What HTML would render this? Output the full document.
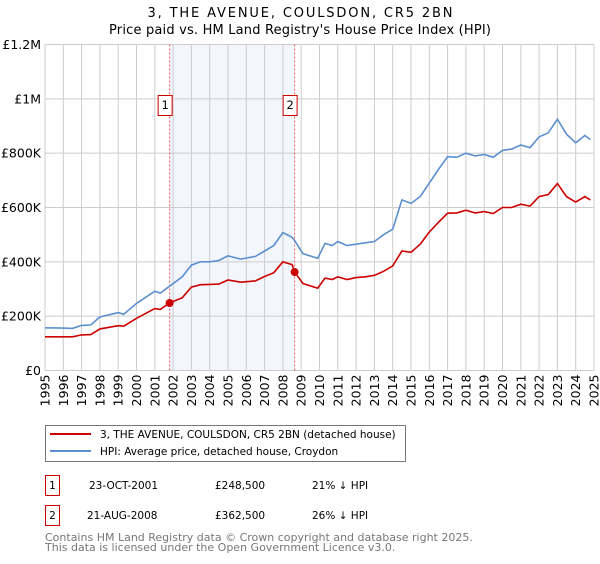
<!DOCTYPE html>
<html><head><meta charset="utf-8"><style>
body{margin:0;background:#fff;font-family:"DejaVu Sans","Liberation Sans",sans-serif;}
svg text{font-family:"DejaVu Sans","Liberation Sans",sans-serif;}
</style></head><body>
<svg id="c" width="600" height="560" xmlns="http://www.w3.org/2000/svg">
<text x="300" y="17" text-anchor="middle" font-size="13" textLength="305" lengthAdjust="spacing">3, THE AVENUE, COULSDON, CR5 2BN</text>
<text x="300" y="34" text-anchor="middle" font-size="13" textLength="382" lengthAdjust="spacing">Price paid vs. HM Land Registry's House Price Index (HPI)</text>
<g id="plot"></g>
<g>
<rect x="45.5" y="425.5" width="360" height="36" fill="#fff" stroke="#777"/>
<line x1="50" y1="434" x2="91" y2="434" stroke="#cc0000" stroke-width="2"/>
<text x="100" y="438" font-size="10.5">3, THE AVENUE, COULSDON, CR5 2BN (detached house)</text>
<line x1="50" y1="451" x2="91" y2="451" stroke="#5b8fd0" stroke-width="2"/>
<text x="100" y="455" font-size="10.5">HPI: Average price, detached house, Croydon</text>
</g>
<g font-size="10.5">
<rect x="45.5" y="475.5" width="14" height="20" fill="#fff" stroke="#cc0000"/>
<text x="52.5" y="489" text-anchor="middle">1</text>
<text x="89" y="489">23-OCT-2001</text>
<text x="215" y="489">£248,500</text>
<text x="312" y="489">21% ↓ HPI</text>
<rect x="45.5" y="505.5" width="14" height="20" fill="#fff" stroke="#cc0000"/>
<text x="52.5" y="519" text-anchor="middle">2</text>
<text x="87" y="519">21-AUG-2008</text>
<text x="215" y="519">£362,500</text>
<text x="312" y="519">26% ↓ HPI</text>
</g>
<text x="45" y="541" font-size="11" fill="#777">Contains HM Land Registry data © Crown copyright and database right 2025.</text>
<text x="45" y="551" font-size="11" fill="#777">This data is licensed under the Open Government Licence v3.0.</text>
</svg>
<script>
const years=[1995,1996,1996.5,1997,1997.5,1998,1999,1999.3,2000,2001,2001.3,2001.8,2002.5,2003,2003.5,2004,2004.5,2005,2005.7,2006.5,2007,2007.5,2008,2008.5,2008.64,2009.1,2009.9,2010.3,2010.7,2011,2011.5,2012,2012.5,2013,2013.5,2014,2014.5,2015,2015.5,2016,2016.5,2017,2017.5,2018,2018.5,2019,2019.5,2020,2020.5,2021,2021.5,2022,2022.5,2023,2023.5,2024,2024.5,2024.8];
const hpi=[157,156,155,166,168,197,213,207,247,292,285,310,345,388,400,400,405,422,410,420,440,460,508,490,478,430,413,468,460,475,460,465,470,475,500,520,628,615,640,690,740,787,785,800,790,795,785,810,815,830,820,860,875,925,870,838,865,850];
const price=[124,124,124,131,132,153,165,163,192,228,225,248.5,268,307,316,317,318,333,325,330,346,360,400,390,362.5,320,303,340,335,345,335,342,345,350,365,385,440,435,465,510,545,579,580,590,580,585,578,600,600,612,605,640,648,688,640,620,640,628];
const saleYears=[2001.81,2008.64];
const salePrices=[248.5,362.5];
const saleLabels=["1","2"];
const yTicks=[0,200,400,600,800,1000,1200];
const yTickLabels=["£0","£200K","£400K","£600K","£800K","£1M","£1.2M"];
const xTicks=[1995,1996,1997,1998,1999,2000,2001,2002,2003,2004,2005,2006,2007,2008,2009,2010,2011,2012,2013,2014,2015,2016,2017,2018,2019,2020,2021,2022,2023,2024,2025];

const L=45,R=594,T=44.5,B=370.5;
const X=y=>L+(y-1995)/30*(R-L);
const Y=v=>B-v/1200*(B-T);
const NS="http://www.w3.org/2000/svg";
const g=document.getElementById('plot');
function mk(t,a){const e=document.createElementNS(NS,t);for(const k in a)e.setAttribute(k,a[k]);g.appendChild(e);return e;}
let e=mk('rect',{x:X(saleYears[0]),y:T,width:X(saleYears[1])-X(saleYears[0]),height:B-T,fill:'#eef2fc',opacity:0.7});


xTicks.forEach(t=>{const l=mk('line',{x1:X(t),x2:X(t),y1:T,y2:B,stroke:'#ccc'});


const tx=mk('text',{x:0,y:0,'font-size':12.5,transform:`translate(${X(t)+4.5},${B+4}) rotate(-90)`,'text-anchor':'end'});tx.textContent=t;

});
yTicks.forEach((t,i)=>{const l=mk('line',{x1:L,x2:R,y1:Y(t),y2:Y(t),stroke:'#ccc'});


const tx=mk('text',{x:L-4,y:Y(t)+4.5,'font-size':12.5,'text-anchor':'end'});tx.textContent=yTickLabels[i];

});
saleYears.forEach((s,i)=>{const l=mk('line',{x1:X(s),x2:X(s),y1:T,y2:B,stroke:'#e55','stroke-dasharray':'2,2'});

});
function path(vals,col,name){const d=years.map((y,i)=>(i?'L':'M')+X(y).toFixed(1)+','+Y(vals[i]).toFixed(1)).join('');
const p=mk('path',{d,fill:'none',stroke:col,'stroke-width':1.6});

}
path(hpi,'#5b8fd0','hpi-line');
path(price,'#cc0000','price-line');
saleYears.forEach((s,i)=>{const c=mk('circle',{cx:X(s),cy:Y(salePrices[i]),r:4,fill:'#cc0000'});


const r=mk('rect',{x:X(s)-11.5,y:95.5,width:14,height:20,fill:'#fff',stroke:'#cc0000'});


const t=mk('text',{x:X(s)-4.5,y:109,'font-size':11.5,'text-anchor':'middle'});t.textContent=saleLabels[i];

});
</script>
</body></html>
